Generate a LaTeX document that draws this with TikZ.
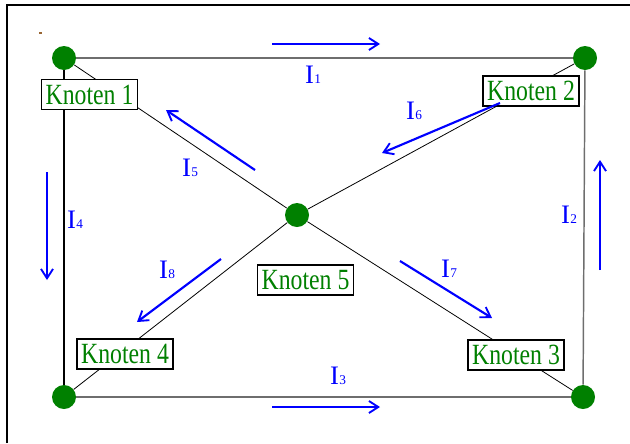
\documentclass[tikz,border=0pt]{standalone}
\usepackage{fontspec}
\setmainfont{Liberation Serif}
\newfontfamily\knfont[FakeStretch=0.81]{Liberation Serif}
\usetikzlibrary{arrows.meta}
\definecolor{kgreen}{RGB}{0,128,0}
\definecolor{kblue}{RGB}{0,0,255}
\definecolor{edgegray}{RGB}{110,110,110}
\tikzset{
  knot/.style={circle,fill=kgreen,draw=none,minimum size=18pt,inner sep=0pt},
  knotlabel/.style={draw=black,fill=white,line width=0.8pt,text=kgreen,
    font=\knfont\fontsize{22}{24}\selectfont,inner sep=0pt,
    minimum width=72pt,minimum height=22.5pt},
  edgeline/.style={draw=edgegray,line width=1.1pt},
  diagline/.style={draw=black,line width=0.6pt},
  current/.style={draw=kblue,line width=1.6pt,
    -{Straight Barb[length=7pt,width=9pt,line width=1.4pt]}},
  curlabel/.style={text=kblue,inner sep=0pt,font=\fontsize{20}{21}\selectfont}
}
\newcommand{\cur}[1]{I\kern0.3pt{\fontsize{10}{11}\selectfont #1}}
\begin{document}
\begin{tikzpicture}[x=0.75pt,y=-0.75pt]
\useasboundingbox (0,0) rectangle (630,443);
% outer frame
\draw[line width=1.6pt] (7,443) -- (7,5) -- (630,5);
\fill[brown!80!black] (39,32) rectangle (42,34);
% junctions
\node[knot] (n1) at (64,58) {};
\node[knot] (n2) at (585,58) {};
\node[knot] (n3) at (583,397) {};
\node[knot] (n4) at (64,397) {};
\node[knot] (n5) at (297,215) {};
% branches
\draw[edgeline] (n1) -- (n2);
\draw[edgeline] (n2) -- (n3);
\draw[edgeline] (n4) -- (n3);
\draw[diagline,line width=0.9pt] (n1) -- (n4);
\draw[diagline] (n1) -- (n5);
\draw[diagline] (n5) -- (n3);
\draw[diagline] (n2) -- (n5);
\draw[diagline] (n5) -- (n4);
% junction labels
\node[knotlabel] (k1) at (89.5,94.5) {Knoten 1};
\node[knotlabel] (k2) at (531,91) {Knoten 2};
\node[knotlabel] (k3) at (516,355) {Knoten 3};
\node[knotlabel] (k4) at (125,354) {Knoten 4};
\node[knotlabel] (k5) at (305.5,280) {Knoten 5};
% branch currents
\draw[current] (272,44) -- (380,44);
\draw[current] (600,270) -- (600,160);
\draw[current] (272,407) -- (380,407);
\draw[current] (47,172) -- (47,280);
\draw[current] (255,170) -- (166,110);
\draw[current] (500,103) -- (382,153);
\draw[current] (400,261) -- (492,318);
\draw[current] (221,259) -- (137,322);
\node[curlabel] (i1) at (313,75) {\cur{1}};
\node[curlabel] (i2) at (569,215) {\cur{2}};
\node[curlabel] (i3) at (338,376) {\cur{3}};
\node[curlabel] (i4) at (75,220) {\cur{4}};
\node[curlabel] (i5) at (190,168) {\cur{5}};
\node[curlabel] (i6) at (414,111) {\cur{6}};
\node[curlabel] (i7) at (449,269) {\cur{7}};
\node[curlabel] (i8) at (167,270) {\cur{8}};
\end{tikzpicture}
\end{document}
